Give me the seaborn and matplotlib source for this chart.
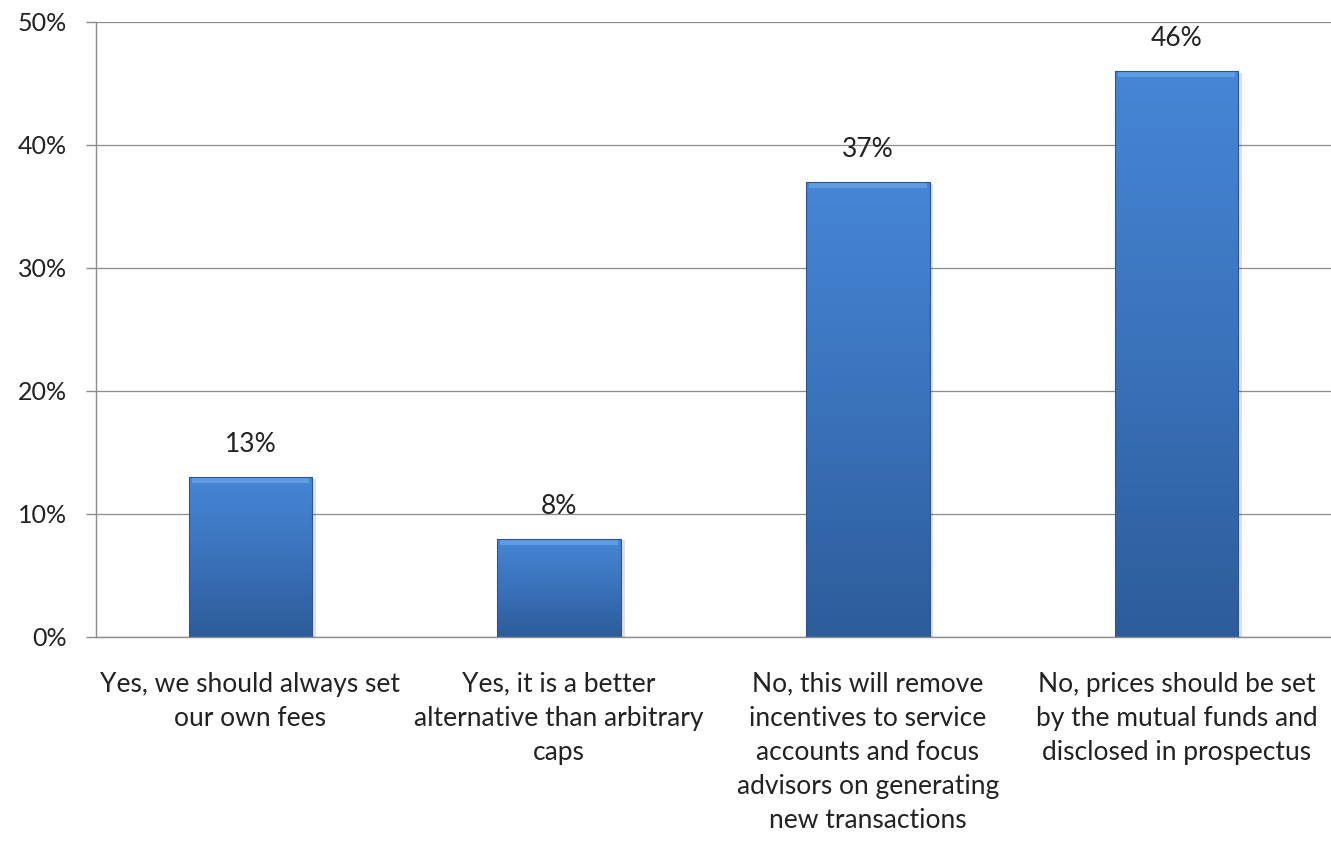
import numpy as np
import pandas as pd
import seaborn as sns
import matplotlib.pyplot as plt
from matplotlib.colors import LinearSegmentedColormap

categories = [
    "Yes, we should always set\nour own fees",
    "Yes, it is a better\nalternative than arbitrary\ncaps",
    "No, this will remove\nincentives to service\naccounts and focus\nadvisors on generating\nnew transactions",
    "No, prices should be set\nby the mutual funds and\ndisclosed in prospectus",
]
shares = [13, 8, 37, 46]
value_labels = ["13%", "8%", "37%", "46%"]
y_ticks = [0, 10, 20, 30, 40, 50]

df = pd.DataFrame({"answer": categories, "share": shares})

sns.set_theme(style="white")
plt.rcParams["font.family"] = ["Lato", "DejaVu Sans"]

fig = plt.figure(figsize=(13.31, 8.43), dpi=100)
ax = fig.add_axes([0.0721, 0.2444, 0.9279, 0.7296])

ax = sns.barplot(data=df, x="answer", y="share", color="#3f7fcf", width=0.4, ax=ax)

# gradient fill on each bar, light on top, darker towards the axis
grad = LinearSegmentedColormap.from_list("bar", ["#2d5c9a", "#3a72bb", "#4686d6"])
for p in ax.patches:
    x0, y0 = p.get_x(), p.get_y()
    w, h = p.get_width(), p.get_height()
    # soft shadow on the right side
    ax.add_patch(plt.Rectangle((x0 + 0.012, y0), w, h - 0.15, color="#000000",
                               alpha=0.12, zorder=1.5, lw=0))
    img = np.linspace(0, 1, 256).reshape(-1, 1)
    im = ax.imshow(img, cmap=grad, origin="lower", aspect="auto",
                   extent=(x0, x0 + w, y0, y0 + h), zorder=2)
    im.set_clip_path(p)
    p.set_facecolor("none")
    p.set_edgecolor("#2a5590")
    p.set_linewidth(0.8)
    p.set_zorder(3)
    # bevel highlight at the top
    ax.add_patch(plt.Rectangle((x0 + 0.01, y0 + h - 0.5), w - 0.02, 0.4,
                               color="#6ea6ea", alpha=0.7, zorder=2.5, lw=0))

for i, (v, lab) in enumerate(zip(shares, value_labels)):
    ax.text(i, v + 1.6, lab, ha="center", va="bottom", fontsize=19, color="#222222")

ax.set_xlim(-0.5, len(categories) - 0.5)
ax.set_ylim(0, 50)
ax.set_yticks(y_ticks)
ax.set_yticklabels([f"{t}%" for t in y_ticks], fontsize=18, color="#222222")
ax.yaxis.grid(True, color="#8c8c8c", linewidth=0.9)
ax.set_axisbelow(True)

ax.set_xticks(range(len(categories)))
ax.set_xticklabels(categories, fontsize=19, color="#222222", linespacing=1.46)
ax.tick_params(axis="x", length=0, pad=25)
ax.set_xticks([i + 0.5 for i in range(len(categories) - 1)], minor=True)
ax.tick_params(axis="x", which="minor", length=7, color="#8c8c8c", width=1)
ax.tick_params(axis="y", length=7, color="#8c8c8c", width=1, left=True, pad=14)

ax.set_xlabel("")
ax.set_ylabel("")
for side in ["top", "right"]:
    ax.spines[side].set_visible(False)
for side in ["left", "bottom"]:
    ax.spines[side].set_color("#8c8c8c")
    ax.spines[side].set_linewidth(1)

fig.savefig("out.png", dpi=100)
